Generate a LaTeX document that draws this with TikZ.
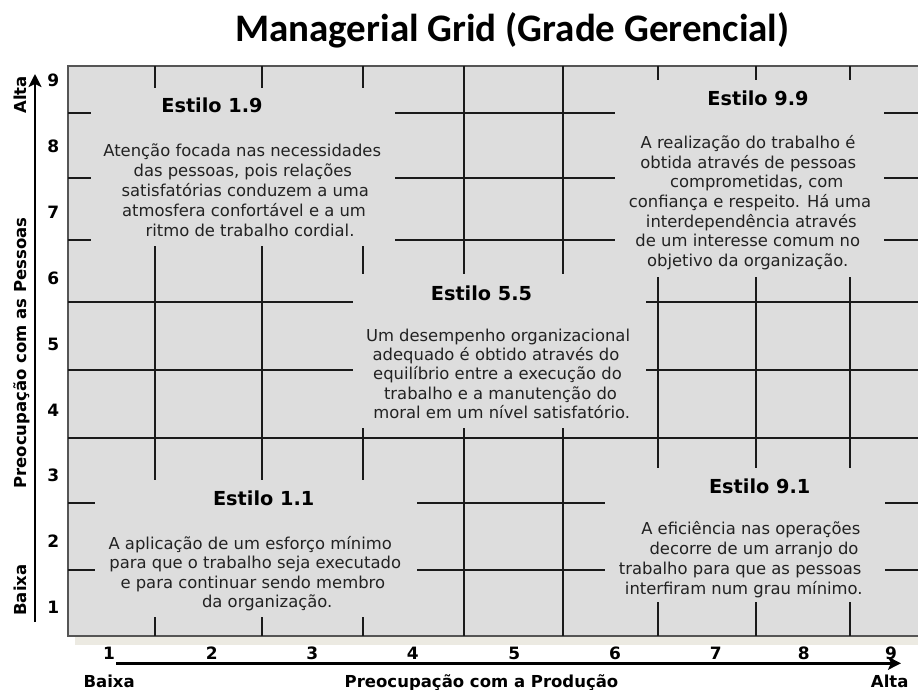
\documentclass[tikz,border=0pt]{standalone}
\usepackage{fontspec}
\setmainfont{DejaVu Sans}
\newfontfamily\titlefont{Carlito}
\usetikzlibrary{arrows.meta}
\definecolor{gridfill}{HTML}{DDDDDD}
\definecolor{shadowc}{HTML}{ECEAE2}
\definecolor{borderc}{HTML}{555555}
\definecolor{linec}{HTML}{1A1A1A}
\definecolor{txtc}{HTML}{222222}
\begin{document}
\begin{tikzpicture}[x=1pt,y=-1pt,
  gline/.style={draw=linec,line width=2pt},
  body/.style={anchor=base,inner sep=0pt,font=\fontsize{16.4}{19}\selectfont,text=txtc},
  head/.style={anchor=base,inner sep=0pt,font=\fontsize{19.3}{23}\selectfont\bfseries},
  num/.style={anchor=base,inner sep=0pt,font=\fontsize{17}{20}\selectfont\bfseries},
  axw/.style={anchor=base,inner sep=0pt,font=\fontsize{16.5}{20}\selectfont\bfseries},
  axarrow/.style={line width=2.4pt,-{Stealth[length=13pt,width=13pt,inset=3pt]}}]
\useasboundingbox (0,0) rectangle (918,690);
% title
\node[anchor=base,inner sep=0pt,font=\titlefont\fontsize{39}{44}\selectfont\bfseries] (title) at (512.5,42) {Managerial Grid (Grade Gerencial)};
% box
\fill[shadowc] (75,636) rectangle (918,645);
\filldraw[fill=gridfill,draw=borderc,line width=1.8pt] (68,66) rectangle (940,636);
% horizontal grid segments
\foreach \y in {113,178,240}{
  \draw[gline] (68,\y) -- (91,\y);
  \draw[gline] (395,\y) -- (615,\y);
  \draw[gline] (884,\y) -- (918,\y);}
\foreach \y in {302,370}{
  \draw[gline] (68,\y) -- (353,\y);
  \draw[gline] (646,\y) -- (918,\y);}
\draw[gline] (68,437.5) -- (918,437.5);
\foreach \y in {503,570}{
  \draw[gline] (68,\y) -- (95,\y);
  \draw[gline] (417,\y) -- (605,\y);
  \draw[gline] (885,\y) -- (918,\y);}
% vertical grid segments
\foreach \x in {155,262}{
  \draw[gline] (\x,66) -- (\x,88);
  \draw[gline] (\x,246) -- (\x,480);
  \draw[gline] (\x,617) -- (\x,636);}
\draw[gline] (363,66) -- (363,88);
\draw[gline] (363,246) -- (363,274);
\draw[gline] (363,428) -- (363,480);
\draw[gline] (363,617) -- (363,636);
\foreach \x in {464,563}{
  \draw[gline] (\x,66) -- (\x,274);
  \draw[gline] (\x,428) -- (\x,636);}
\foreach \x in {657.5,756,850}{
  \draw[gline] (\x,66) -- (\x,80);
  \draw[gline] (\x,277) -- (\x,468);
  \draw[gline] (\x,602) -- (\x,636);}
% Estilo 1.9
\node[head] (h19) at (212,113) {Estilo 1.9};
\node[body] (b19a) at (242.2,157) {Atenção focada nas necessidades};
\node[body] (b19b) at (242.8,176.7) {das pessoas, pois relações};
\node[body] (b19c) at (245.3,196.5) {satisfatórias conduzem a uma};
\node[body] (b19d) at (244,216.3) {atmosfera confortável e a um};
\node[body] (b19e) at (250,236) {ritmo de trabalho cordial.};
% Estilo 9.9
\node[head] (h99) at (758,105.7) {Estilo 9.9};
\node[body] (b99a) at (748,148.3) {A realização do trabalho é};
\node[body] (b99b) at (748.3,168) {obtida através de pessoas};
\node[body] (b99c) at (756.7,187.7) {comprometidas, com};
\node[body] (b99d) at (750,207.4) {confiança e respeito. Há uma};
\node[body] (b99e) at (751.3,227.1) {interdependência através};
\node[body] (b99f) at (747.8,246.8) {de um interesse comum no};
\node[body] (b99g) at (747.7,266.5) {objetivo da organização.};
% Estilo 5.5
\node[head] (h55) at (481.5,300) {Estilo 5.5};
\node[body] (b55a) at (498,341) {Um desempenho organizacional};
\node[body] (b55b) at (496,360) {adequado é obtido através do};
\node[body] (b55c) at (497.5,379.5) {equilíbrio entre a execução do};
\node[body] (b55d) at (500.5,399) {trabalho e a manutenção do};
\node[body] (b55e) at (501.7,418.5) {moral em um nível satisfatório.};
% Estilo 1.1
\node[head] (h11) at (263.7,505) {Estilo 1.1};
\node[body] (b11a) at (250.2,549) {A aplicação de um esforço mínimo};
\node[body] (b11b) at (255.2,568.5) {para que o trabalho seja executado};
\node[body] (b11c) at (252.8,588) {e para continuar sendo membro};
\node[body] (b11d) at (267.2,607.7) {da organização.};
% Estilo 9.1
\node[head] (h91) at (759.7,493) {Estilo 9.1};
\node[body] (b91a) at (750.8,534) {A eficiência nas operações};
\node[body] (b91b) at (754,554) {decorre de um arranjo do};
\node[body] (b91c) at (740.2,574) {trabalho para que as pessoas};
\node[body] (b91d) at (743.8,594) {interfiram num grau mínimo.};
% left numbers
\foreach \n [count=\i from 0] in {9,8,7,6,5,4,3,2,1}{
  \node[num] (ln\n) at (53.3,87+65.8*\i) {\n};}
% bottom numbers
\foreach \n/\x in {1/109,2/211.7,3/312.2,4/412.7,5/514.3,6/615,7/715.8,8/803.8,9/891}{
  \node[num] (bn\n) at (\x,659) {\n};}
% axes
\coordinate (vs) at (35,622);
\coordinate (ve) at (35,74);
\draw[axarrow] (vs) -- (ve);
\coordinate (hs) at (116,663.3);
\coordinate (he) at (901,663.3);
\draw[axarrow] (hs) -- (he);
% axis words
\node[axw,rotate=90] (valta) at (26,95) {Alta};
\node[axw,rotate=90] (vlab) at (26,353) {Preocupação com as Pessoas};
\node[axw,rotate=90] (vbaixa) at (26,590) {Baixa};
\node[axw] (hbaixa) at (109.2,687.5) {Baixa};
\node[axw] (hlab) at (481.5,687.5) {Preocupação com a Produção};
\node[axw] (halta) at (889.7,687.5) {Alta};
\end{tikzpicture}
\end{document}
